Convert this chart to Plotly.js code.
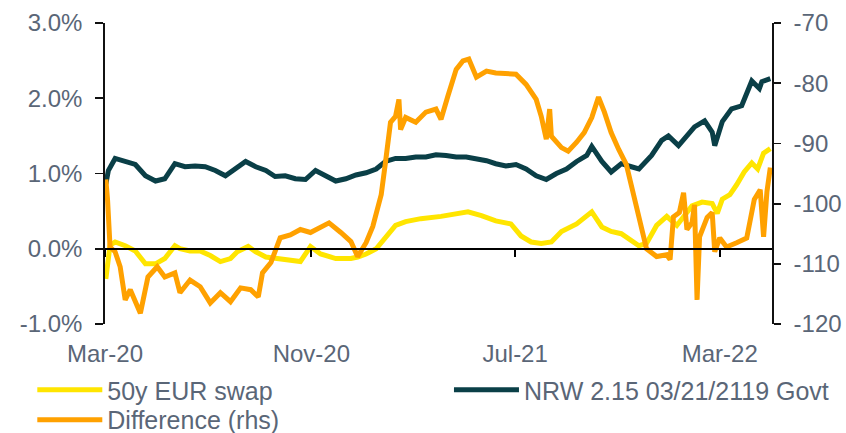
<!DOCTYPE html>
<html>
<head>
<meta charset="utf-8">
<script src="https://cdn.plot.ly/plotly-3.0.1.min.js"></script>
<style>html,body{margin:0;padding:0;background:#fff;}#chart{width:846px;height:433px;}</style>
</head>
<body>
<div id="chart"></div>
<script>
// 50y EUR swap (%), left axis
const swapDates = ['2020-03-02','2020-03-04','2020-03-07','2020-03-13','2020-03-25','2020-04-06','2020-04-18','2020-04-30','2020-05-11','2020-05-23','2020-05-29','2020-06-10','2020-06-22','2020-07-04','2020-07-16','2020-07-28','2020-08-05','2020-08-18','2020-08-27','2020-09-08','2020-09-25','2020-10-07','2020-10-19','2020-10-31','2020-11-12','2020-11-30','2020-12-18','2020-12-26','2021-01-05','2021-01-17','2021-01-28','2021-02-09','2021-02-21','2021-03-11','2021-04-04','2021-04-22','2021-05-06','2021-05-22','2021-06-08','2021-06-26','2021-07-08','2021-07-20','2021-08-01','2021-08-13','2021-08-25','2021-09-12','2021-09-30','2021-10-12','2021-10-23','2021-11-04','2021-11-16','2021-11-25','2021-12-04','2021-12-16','2021-12-28','2022-01-09','2022-01-27','2022-02-08','2022-02-20','2022-02-26','2022-03-04','2022-03-13','2022-03-21','2022-03-30','2022-04-08','2022-04-15','2022-04-22','2022-04-30'];
const swapValues = [-0.40,-0.25,0.05,0.09,0.04,-0.03,-0.20,-0.20,-0.13,0.04,0.00,-0.03,-0.03,-0.09,-0.17,-0.13,-0.04,0.03,-0.04,-0.11,-0.13,-0.16,-0.17,0.03,-0.07,-0.13,-0.13,-0.11,-0.07,0.00,0.16,0.31,0.36,0.40,0.43,0.47,0.49,0.44,0.37,0.33,0.17,0.09,0.07,0.09,0.23,0.33,0.49,0.29,0.23,0.20,0.11,0.04,0.07,0.31,0.43,0.31,0.57,0.62,0.60,0.47,0.66,0.72,0.85,1.02,1.14,1.06,1.27,1.33];

// NRW 2.15 03/21/2119 Govt (%), left axis
const nrwDates = ['2020-03-02','2020-03-05','2020-03-13','2020-03-25','2020-04-06','2020-04-18','2020-04-30','2020-05-11','2020-05-23','2020-06-04','2020-06-16','2020-06-28','2020-07-10','2020-07-22','2020-08-03','2020-08-15','2020-08-27','2020-09-08','2020-09-19','2020-10-01','2020-10-13','2020-10-25','2020-11-06','2020-11-18','2020-11-30','2020-12-12','2020-12-24','2021-01-05','2021-01-17','2021-01-28','2021-02-09','2021-02-21','2021-03-05','2021-03-17','2021-03-29','2021-04-10','2021-04-22','2021-05-04','2021-05-16','2021-05-28','2021-06-08','2021-06-20','2021-07-02','2021-07-14','2021-07-26','2021-08-07','2021-08-19','2021-08-31','2021-09-12','2021-09-24','2021-09-30','2021-10-12','2021-10-23','2021-11-04','2021-11-16','2021-11-25','2021-12-10','2021-12-22','2021-12-30','2022-01-11','2022-01-30','2022-02-11','2022-02-20','2022-02-23','2022-03-04','2022-03-15','2022-03-27','2022-04-08','2022-04-17','2022-04-20','2022-04-30'];
const nrwValues = [0.86,1.04,1.20,1.16,1.12,0.97,0.90,0.93,1.13,1.09,1.10,1.09,1.04,0.97,1.06,1.16,1.09,1.04,0.96,0.97,0.93,0.92,1.04,0.97,0.90,0.93,0.98,1.01,1.06,1.16,1.20,1.20,1.22,1.22,1.25,1.24,1.22,1.22,1.20,1.17,1.13,1.10,1.12,1.06,0.97,0.92,1.00,1.06,1.16,1.24,1.36,1.16,1.02,1.13,1.09,1.06,1.24,1.44,1.50,1.37,1.62,1.70,1.55,1.37,1.69,1.86,1.90,2.23,2.13,2.22,2.26];

// Difference (rhs), right axis
const diffDates = ['2020-03-02','2020-03-04','2020-03-07','2020-03-13','2020-03-19','2020-03-25','2020-03-31','2020-04-06','2020-04-12','2020-04-21','2020-05-02','2020-05-11','2020-05-23','2020-05-29','2020-06-10','2020-06-22','2020-07-04','2020-07-16','2020-07-28','2020-08-09','2020-08-21','2020-08-30','2020-09-04','2020-09-14','2020-09-25','2020-10-07','2020-10-19','2020-10-31','2020-11-12','2020-11-22','2020-12-06','2020-12-18','2020-12-26','2021-01-05','2021-01-13','2021-01-23','2021-01-28','2021-02-03','2021-02-09','2021-02-13','2021-02-15','2021-02-21','2021-03-05','2021-03-17','2021-03-29','2021-04-04','2021-04-12','2021-04-22','2021-04-30','2021-05-07','2021-05-16','2021-05-28','2021-06-08','2021-06-20','2021-07-02','2021-07-14','2021-07-26','2021-08-01','2021-08-07','2021-08-11','2021-08-13','2021-08-25','2021-09-02','2021-09-12','2021-09-21','2021-09-30','2021-10-08','2021-10-15','2021-10-23','2021-11-01','2021-11-10','2021-11-16','2021-11-22','2021-11-28','2021-12-04','2021-12-16','2021-12-28','2022-01-01','2022-01-05','2022-01-12','2022-01-17','2022-01-21','2022-01-27','2022-01-30','2022-02-02','2022-02-05','2022-02-14','2022-02-20','2022-02-23','2022-03-01','2022-03-09','2022-03-21','2022-04-02','2022-04-11','2022-04-18','2022-04-22','2022-04-26','2022-04-30'];
const diffValues = [-96.0,-99.3,-107.2,-108.0,-110.5,-116.0,-114.3,-116.5,-118.2,-112.2,-110.5,-112.2,-111.5,-114.8,-112.7,-113.8,-116.5,-114.8,-116.3,-114.0,-114.3,-115.5,-111.5,-109.8,-105.7,-105.2,-104.3,-104.8,-104.0,-103.2,-104.8,-106.3,-108.8,-106.5,-103.8,-98.5,-93.2,-86.5,-85.5,-82.7,-87.7,-85.7,-86.5,-84.8,-84.3,-86.0,-82.2,-77.7,-76.3,-76.0,-79.0,-78.0,-78.3,-78.5,-78.5,-80.2,-82.7,-85.5,-89.3,-84.3,-88.8,-90.7,-91.3,-89.8,-88.2,-85.7,-82.3,-84.8,-88.2,-91.0,-93.5,-97.0,-100.5,-104.0,-107.5,-108.8,-108.5,-109.3,-102.2,-101.5,-98.2,-104.3,-103.2,-100.2,-116.0,-105.5,-102.3,-101.5,-108.0,-105.7,-107.2,-106.5,-105.7,-99.3,-97.7,-105.5,-98.0,-94.0];

// Axis labels
const xTickVals = ['2020-03-01','2020-11-01','2021-07-01','2022-03-01'];
const xTickText = ['Mar-20','Nov-20','Jul-21','Mar-22'];
const xRange = ['2020-03-01','2022-05-02'];
const yLeftTicks = [-1, 0, 1, 2, 3];
const yLeftText = ['-1.0%','0.0%','1.0%','2.0%','3.0%'];
const yRightTicks = [-120, -110, -100, -90, -80, -70];
const yRightText = ['-120','-110','-100','-90','-80','-70'];

const txtColor = '#5a6677';
const fontFam = 'Liberation Sans, Arial, sans-serif';
const legFont = {family: fontFam, size: 25, color: txtColor};

const traces = [
  {x: swapDates, y: swapValues, name: '50y EUR swap', type: 'scatter', mode: 'lines',
   line: {color: '#FFE500', width: 5}, xaxis: 'x', yaxis: 'y', legend: 'legend'},
  {x: nrwDates, y: nrwValues, name: 'NRW 2.15 03/21/2119 Govt', type: 'scatter', mode: 'lines',
   line: {color: '#0A3F47', width: 5}, xaxis: 'x', yaxis: 'y', legend: 'legend2'},
  {x: diffDates, y: diffValues, name: 'Difference (rhs)', type: 'scatter', mode: 'lines',
   line: {color: '#FFA100', width: 5}, xaxis: 'x2', yaxis: 'y2', legend: 'legend3'}
];

const legBase = {orientation: 'v', xanchor: 'left', yanchor: 'top', itemwidth: 65,
                 font: legFont, bgcolor: 'rgba(0,0,0,0)', borderwidth: 0};

const layout = {
  width: 846, height: 433,
  margin: {l: 105, r: 74, t: 23, b: 109, pad: 0, autoexpand: false},
  paper_bgcolor: '#ffffff', plot_bgcolor: '#ffffff',
  font: {family: fontFam, size: 24, color: txtColor},
  showlegend: true,
  legend: Object.assign({}, legBase, {x: -0.109, y: -0.143}),
  legend2: Object.assign({}, legBase, {x: 0.5157, y: -0.143}),
  legend3: Object.assign({}, legBase, {x: -0.109, y: -0.2425}),
  xaxis: {type: 'date', range: xRange, tickvals: xTickVals, ticktext: xTickText,
          showgrid: false, zeroline: false, showline: false, ticks: '',
          ticklabelstandoff: 13, tickfont: {family: fontFam, size: 24, color: txtColor},
          fixedrange: true},
  xaxis2: {type: 'date', range: xRange, tickvals: xTickVals, overlaying: 'x',
           anchor: 'free', position: 0.25, showticklabels: false,
           showgrid: false, zeroline: false, showline: true, linecolor: '#000', linewidth: 2.5,
           ticks: 'outside', ticklen: 7, tickwidth: 2, tickcolor: '#000', fixedrange: true},
  yaxis: {range: [-1, 3], tickvals: yLeftTicks, ticktext: yLeftText,
          showgrid: false, zeroline: false, showline: true, linecolor: '#111', linewidth: 1.8,
          ticks: 'outside', ticklen: 8, tickwidth: 1.8, tickcolor: '#111',
          ticklabelstandoff: 8, tickfont: {family: fontFam, size: 24, color: txtColor}, fixedrange: true},
  yaxis2: {range: [-120, -70], tickvals: yRightTicks, ticktext: yRightText,
           overlaying: 'y', side: 'right', anchor: 'x2',
           showgrid: false, zeroline: false, showline: true, linecolor: '#111', linewidth: 1.8,
           ticks: 'outside', ticklen: 7, tickwidth: 1.8, tickcolor: '#111',
           ticklabelstandoff: 8, tickfont: {family: fontFam, size: 24, color: txtColor}, fixedrange: true}
};

Plotly.newPlot('chart', traces, layout, {displayModeBar: false, staticPlot: true});
</script>
</body>
</html>
